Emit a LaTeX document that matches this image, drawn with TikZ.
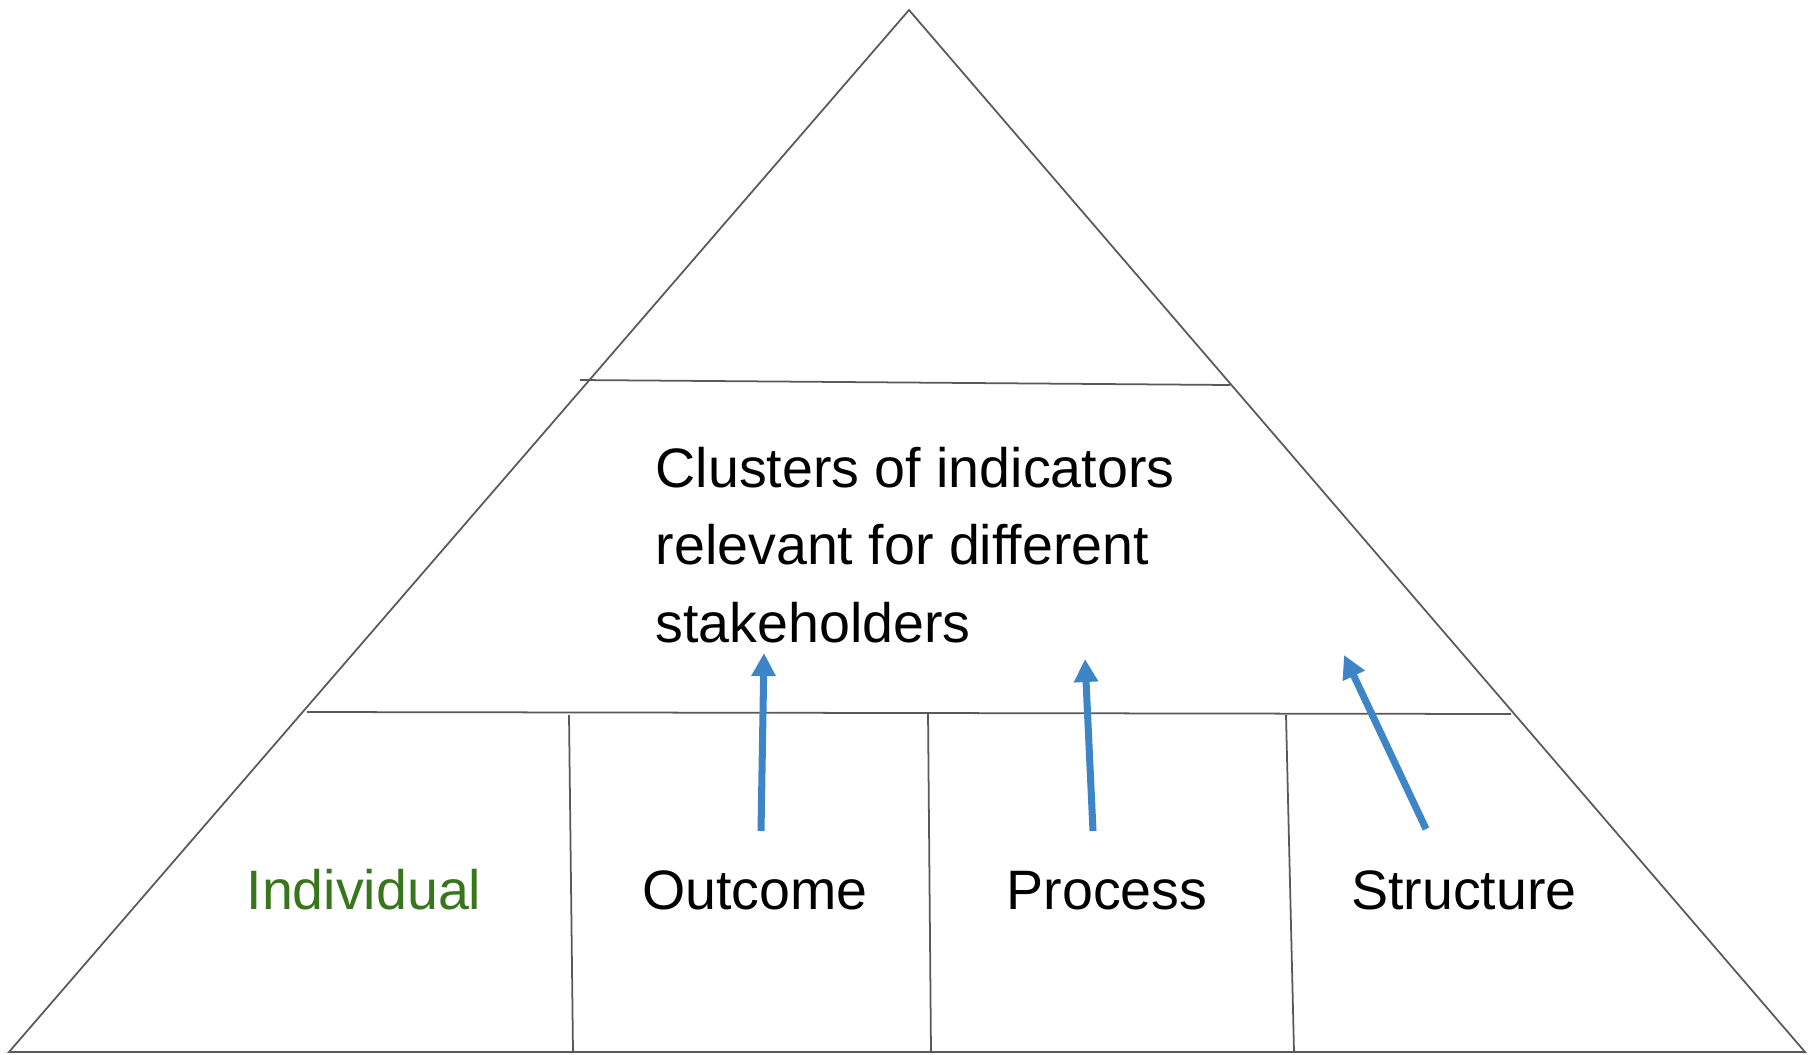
\documentclass[tikz,border=0pt]{standalone}
\usepackage{fontspec}
\setmainfont{Liberation Sans}
\usetikzlibrary{arrows.meta}
\definecolor{pyrgray}{HTML}{595959}
\definecolor{arrowblue}{HTML}{3D85C6}
\definecolor{indgreen}{HTML}{38761D}

\begin{document}
\begin{tikzpicture}[x=0.01cm,y=-0.01cm,
    pyrline/.style={color=pyrgray,line width=0.5pt},
    uparrow/.style={-{Triangle[length=0.23cm,width=0.23cm]},line width=2pt,color=arrowblue},
    levellabel/.style={anchor=base,inner sep=0pt,font=\fontsize{15.8pt}{19pt}\selectfont}]
  \useasboundingbox (0,0) rectangle (1818,1054);

  % pyramid outline
  \coordinate (apex) at (909,10);
  \coordinate (bl) at (9,1052);
  \coordinate (br) at (1805,1052);
  \draw[pyrline] (bl) -- (apex) -- (br) -- cycle;

  % level dividers
  \coordinate (top l) at (580,380);
  \coordinate (top r) at (1230,385);
  \coordinate (mid l) at (307,712);
  \coordinate (mid r) at (1511,714);
  \draw[pyrline] (top l) -- (top r);
  \draw[pyrline] (mid l) -- (mid r);

  % columns of the bottom level
  \coordinate (c1 t) at (569,715);  \coordinate (c1 b) at (573,1052);
  \coordinate (c2 t) at (928,712);  \coordinate (c2 b) at (931,1052);
  \coordinate (c3 t) at (1286,715); \coordinate (c3 b) at (1294,1052);
  \draw[pyrline] (c1 t) -- (c1 b);
  \draw[pyrline] (c2 t) -- (c2 b);
  \draw[pyrline] (c3 t) -- (c3 b);

  \node[anchor=north west,inner sep=0pt,align=left,font=\fontsize{15.8pt}{21.9pt}\selectfont] (clusters) at (655,447)
    {Clusters of indicators\\relevant for different\\stakeholders};

  \node[levellabel,color=indgreen] (individual) at (364,909) {Individual};
  \node[levellabel] (outcome) at (755,909) {Outcome};
  \node[levellabel] (process) at (1107,909) {Process};
  \node[levellabel] (structure) at (1464,909) {Structure};

  % arrows up to the clusters
  \coordinate (a1 s) at (761,831);  \coordinate (a1 e) at (764,653);
  \coordinate (a2 s) at (1093,831); \coordinate (a2 e) at (1085,659);
  \coordinate (a3 s) at (1426,829); \coordinate (a3 e) at (1344,655);
  \draw[uparrow] (a1 s) -- (a1 e);
  \draw[uparrow] (a2 s) -- (a2 e);
  \draw[uparrow] (a3 s) -- (a3 e);
\end{tikzpicture}
\end{document}
